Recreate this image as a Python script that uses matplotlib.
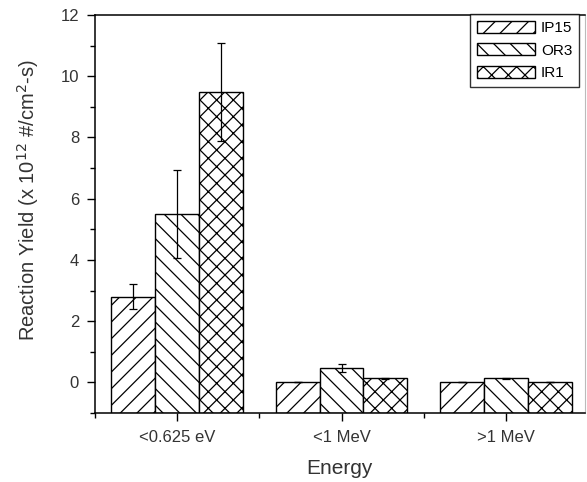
import numpy as np
import matplotlib
matplotlib.use('Agg')
import matplotlib.pyplot as plt
from matplotlib.ticker import MultipleLocator, FixedLocator

plt.rcParams['font.family'] = ['Liberation Sans', 'DejaVu Sans']
plt.rcParams['hatch.linewidth'] = 0.9

# data
categories = ['<0.625 eV', '<1 MeV', '>1 MeV']
series = ['IP15', 'OR3', 'IR1']
ip15 = [2.8, 0.0, 0.03]
or3 = [5.5, 0.47, 0.13]
ir1 = [9.48, 0.13, 0.03]
ip15_err = [0.4, 0.0, 0.0]
or3_err = [1.45, 0.12, 0.03]
ir1_err = [1.6, 0.02, 0.0]

values = [ip15, or3, ir1]
errors = [ip15_err, or3_err, ir1_err]
hatches = ['//', '\\\\', 'xx']

ymin = -1.0
x = np.arange(len(categories))
w = 0.267

fig = plt.figure(figsize=(5.87, 4.82), dpi=100)
ax = fig.add_axes([0.162, 0.143, 0.834, 0.826])

for i, (vals, errs, h, name) in enumerate(zip(values, errors, hatches, series)):
    pos = x + (i - 1) * w
    heights = np.array(vals) - ymin
    ax.bar(pos, heights, w, bottom=ymin, color='white', edgecolor='black',
           linewidth=1.0, hatch=h, label=name, zorder=2)
    ax.errorbar(pos, vals, yerr=errs, fmt='none', ecolor='black',
                elinewidth=0.9, capsize=3, capthick=0.9, zorder=3)

ax.set_xlim(-0.5, 2.48)
ax.set_ylim(ymin, 12)
ax.set_xticks(x)
ax.set_xticklabels(categories)
ax.xaxis.set_minor_locator(FixedLocator([-0.5, 0.5, 1.5]))
ax.set_yticks(np.arange(0, 13, 2))
ax.yaxis.set_minor_locator(MultipleLocator(1))

ax.tick_params(axis='both', which='major', direction='out', length=5.5, width=1,
               labelsize=12, colors='black', labelcolor='#333333', pad=6)
ax.tick_params(axis='both', which='minor', direction='out', length=3.5, width=1)
ax.tick_params(axis='x', pad=7)
for s in ax.spines.values():
    s.set_linewidth(1.1)
ax.spines['right'].set_color('#bbbbbb')
ax.spines['right'].set_linewidth(0.8)

ax.set_xlabel('Energy', fontsize=15, color='#333333', labelpad=10)
ax.set_ylabel(r'Reaction Yield (x 10$^{12}$ #/cm$^{2}$-s)', fontsize=14.5,
              color='#333333')
ax.yaxis.set_label_coords(-0.11, 0.535)

leg = ax.legend(loc='upper right', fontsize=11, frameon=True, fancybox=False,
                edgecolor='black', bbox_to_anchor=(579 / 587, 1 - 14 / 482),
                bbox_transform=fig.transFigure, borderaxespad=0.0,
                handlelength=3.8, handleheight=0.8, labelspacing=0.55,
                borderpad=0.45, handletextpad=0.4)
leg.get_frame().set_linewidth(1.0)

fig.savefig('out.png', dpi=100)
